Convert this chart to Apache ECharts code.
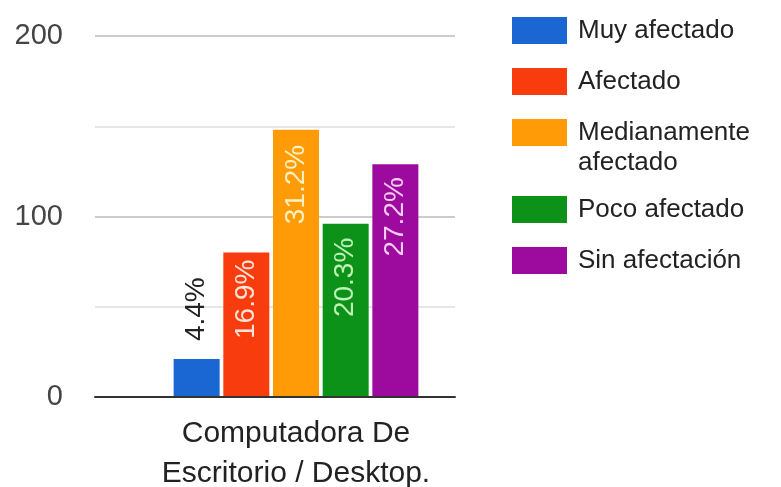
<!DOCTYPE html>
<html>
<head>
<meta charset="utf-8">
<script src="https://cdn.jsdelivr.net/npm/echarts@6/dist/echarts.min.js"></script>
<style>
  html, body { margin: 0; padding: 0; background: #fff; }
  #chart { width: 781px; height: 487px; }
</style>
</head>
<body>
<div id="chart"></div>
<script>
// Survey answers for one device category, as counts of respondents
const categories = ['Computadora De\nEscritorio / Desktop.'];
const seriesNames = ['Muy afectado', 'Afectado', 'Medianamente afectado', 'Poco afectado', 'Sin afectación'];
const seriesValues = [21, 80, 148, 96, 129];
const yMin = 0;
const yMax = 200;
const yStep = 50;
const yLabelEvery = 100;

const barColors = ['#1a67d4', '#f93c0d', '#fe9b06', '#0d9219', '#9c0a9e'];
const labelColors = ['#222222', '#ffe3d8', '#fff0c0', '#bff2b8', '#f7cbf6'];
const labelDistances = [18, 7, 15, 14, 13];

const total = seriesValues.reduce((a, b) => a + b, 0);
const pct = v => (v / total * 100).toFixed(1) + '%';
const FONT = '"Liberation Sans", Arial, sans-serif';

const series = seriesNames.map((name, i) => {
  const small = seriesValues[i] < 40;
  return {
    name: name,
    type: 'bar',
    xAxisIndex: 1,
    yAxisIndex: 1,
    barWidth: 46,
    barGap: '8%',
    itemStyle: { color: barColors[i] },
    data: [seriesValues[i]],
    label: {
      show: true,
      rotate: 90,
      position: small ? 'top' : 'insideTop',
      align: small ? 'left' : 'right',
      verticalAlign: 'middle',
      distance: labelDistances[i],
      fontFamily: FONT,
      fontSize: 28,
      color: labelColors[i],
      formatter: p => pct(p.value)
    }
  };
});

const legendBase = {
  orient: 'vertical',
  left: 507,
  itemWidth: 55,
  itemHeight: 27,
  itemGap: 18,
  icon: 'rect',
  textStyle: {
    fontFamily: FONT,
    fontSize: 26,
    color: '#222',
    lineHeight: 33,
    padding: [0, 0, 0, 6]
  },
  selectedMode: false
};

const chart = echarts.init(document.getElementById('chart'), null, { renderer: 'canvas' });
chart.setOption({
  animation: false,
  backgroundColor: '#ffffff',
  grid: [
    { left: 95, top: 36, width: 360, height: 361, outerBoundsMode: 'none', containLabel: false },
    { left: 95, top: 36, width: 402, height: 361, outerBoundsMode: 'none', containLabel: false }
  ],
  xAxis: [
    {
      type: 'category',
      gridIndex: 0,
      data: categories,
      z: 5,
      axisLine: { show: true, lineStyle: { color: '#333', width: 2 } },
      axisTick: { show: false },
      axisLabel: { show: false },
      splitLine: { show: false }
    },
    {
      type: 'category',
      gridIndex: 1,
      data: categories,
      axisLine: { show: false },
      axisTick: { show: false },
      axisLabel: {
        show: true,
        margin: 17,
        fontFamily: FONT,
        fontSize: 30,
        lineHeight: 40,
        color: '#222'
      }
    }
  ],
  yAxis: [
    {
      type: 'value',
      gridIndex: 0,
      min: yMin,
      max: yMax,
      interval: yStep,
      axisLine: { show: false },
      axisTick: { show: false },
      axisLabel: {
        margin: 32,
        fontFamily: FONT,
        fontSize: 29,
        color: '#444',
        formatter: v => (v % yLabelEvery === 0 ? String(v) : '')
      },
      splitLine: { lineStyle: { color: ['#cccccc', '#e6e6e6'], width: 2 } }
    },
    {
      type: 'value',
      gridIndex: 1,
      min: yMin,
      max: yMax,
      show: false
    }
  ],
  legend: [
    Object.assign({}, legendBase, {
      top: 9,
      data: seriesNames.slice(0, 3),
      formatter: n => n.split(' ')[0] === 'Medianamente' ? 'Medianamente' : n
    }),
    Object.assign({}, legendBase, {
      top: 188,
      data: seriesNames.slice(3)
    })
  ],
  graphic: [{
    type: 'text',
    left: 578,
    top: 150,
    style: {
      text: seriesNames[2].split(' ')[1],
      font: '26px ' + FONT,
      fill: '#222'
    }
  }],
  series: series
});
</script>
</body>
</html>
